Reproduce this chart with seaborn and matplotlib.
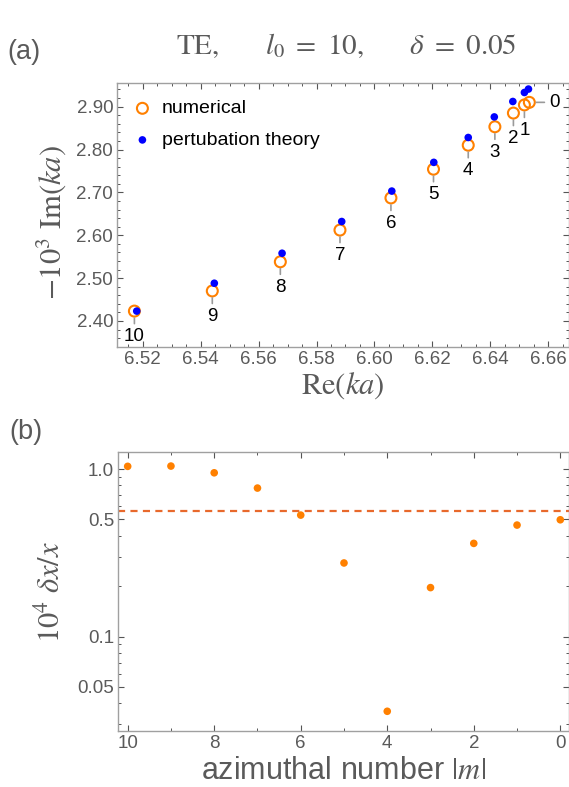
import numpy as np
import matplotlib
matplotlib.use("Agg")
import matplotlib.pyplot as plt
import seaborn as sns
from matplotlib.ticker import MultipleLocator, FixedLocator, FormatStrFormatter, NullFormatter

# panel (a): resonances for |m| = 0..10 (numerical vs perturbation theory)
m_vals = [0, 1, 2, 3, 4, 5, 6, 7, 8, 9, 10]
re_num = [6.6535, 6.6518, 6.6480, 6.6416, 6.6324, 6.6204, 6.6057, 6.5881, 6.5675, 6.5440, 6.5171]
im_num = [2.910, 2.904, 2.885, 2.853, 2.810, 2.754, 2.687, 2.612, 2.538, 2.470, 2.423]
re_pt = [6.6532, 6.6518, 6.6478, 6.6414, 6.6324, 6.6205, 6.6060, 6.5887, 6.5681, 6.5447, 6.5179]
im_pt = [2.941, 2.933, 2.912, 2.876, 2.828, 2.770, 2.703, 2.632, 2.558, 2.488, 2.423]

# panel (b): relative deviation 10^4 dx/x
dev = [0.498, 0.463, 0.360, 0.196, 0.0358, 0.275, 0.531, 0.770, 0.950, 1.042, 1.038]
dev_mean = np.mean(dev)

orange = "#FF8000"
blue = "#0000FF"
dash_col = "#E8692C"
gray_txt = "#5a5a5a"
spine_col = "#a0a0a0"

sns.set_theme(style="ticks")
plt.rcParams["font.family"] = ["Liberation Sans", "DejaVu Sans"]
plt.rcParams["mathtext.fontset"] = "stix"

fig = plt.figure(figsize=(5.69, 7.87), dpi=100)
ax1 = fig.add_axes([0.2062, 0.5595, 0.7938, 0.3355])
ax2 = fig.add_axes([0.2079, 0.0715, 0.7921, 0.3537])


def style_axes(ax):
    for sp in ax.spines.values():
        sp.set_color(spine_col)
        sp.set_linewidth(1.0)
    ax.tick_params(which="both", direction="in", top=True, right=True,
                   color="#555555", labelcolor=gray_txt, labelsize=13.5)
    ax.tick_params(which="major", length=4, width=0.8, pad=3)
    ax.tick_params(which="minor", length=2.2, width=0.7)


# ---- (a) ----
sns.scatterplot(x=re_num, y=im_num, ax=ax1, marker="o", s=62, color=orange,
                facecolor="none", edgecolor=orange, linewidth=1.5,
                label="numerical", zorder=3)
sns.scatterplot(x=re_pt, y=im_pt, ax=ax1, marker="o", s=30, color=blue,
                edgecolor="none", linewidth=0, label="pertubation theory", zorder=4)

for m, x, y in zip(m_vals, re_num, im_num):
    off = (18, 0) if m == 0 else (0, -18.5)
    ax1.annotate(str(m), xy=(x, y), xytext=off, textcoords="offset points",
                 ha="center", va="center", fontsize=13.5, color="black",
                 arrowprops=dict(arrowstyle="-", color="#9a9a9a", lw=1.2,
                                 shrinkA=-1, shrinkB=5))

ax1.set_xlim(6.5112, 6.6672)
ax1.set_ylim(2.340, 2.956)
ax1.xaxis.set_major_locator(MultipleLocator(0.02))
ax1.xaxis.set_minor_locator(MultipleLocator(0.005))
ax1.yaxis.set_major_locator(MultipleLocator(0.1))
ax1.yaxis.set_minor_locator(MultipleLocator(0.02))
ax1.xaxis.set_major_formatter(FormatStrFormatter("%.2f"))
ax1.yaxis.set_major_formatter(FormatStrFormatter("%.2f"))
style_axes(ax1)

ax1.set_xlabel(r"$\mathrm{Re}(ka)$", fontsize=22, color=gray_txt)
ax1.set_ylabel(r"$-10^3\ \mathrm{Im}(ka)$", fontsize=22, color=gray_txt)
ax1.xaxis.set_label_coords(0.5, -0.088)
ax1.yaxis.set_label_coords(-0.11, 0.47)

leg = ax1.legend(loc="upper left", bbox_to_anchor=(0.034, 0.935), frameon=False,
                 fontsize=14, handlelength=1.0, handletextpad=0.5,
                 labelspacing=0.72, borderpad=0, borderaxespad=0)
for t in leg.get_texts():
    t.set_color("black")

# ---- (b) ----
sns.scatterplot(x=m_vals, y=dev, ax=ax2, marker="o", s=30, color=orange,
                edgecolor="none", linewidth=0, zorder=3)
ax2.axhline(dev_mean, color=dash_col, lw=1.6, ls=(0, (3.2, 2.4)), zorder=2)
ax2.set_yscale("log")
ax2.set_xlim(10.217, -0.201)
ax2.set_ylim(0.0274, 1.258)
ax2.xaxis.set_major_locator(MultipleLocator(2))
ax2.xaxis.set_minor_locator(MultipleLocator(1))
ax2.yaxis.set_major_locator(FixedLocator([0.05, 0.1, 0.5, 1.0]))
ax2.yaxis.set_minor_locator(FixedLocator([0.03, 0.04, 0.06, 0.07, 0.08, 0.09,
                                          0.2, 0.3, 0.4, 0.6, 0.7, 0.8, 0.9]))
ax2.set_yticklabels(["0.05", "0.1", "0.5", "1.0"])
ax2.yaxis.set_minor_formatter(NullFormatter())
ax2.set_xticks([10, 8, 6, 4, 2, 0])
ax2.set_xticklabels(["10", "8", "6", "4", "2", "0"])
style_axes(ax2)

ax2.set_xlabel(r"azimuthal number $|m|$", fontsize=22, color=gray_txt)
ax2.set_ylabel(r"$10^4\ \delta x/x$", fontsize=22, color=gray_txt)
ax2.xaxis.set_label_coords(0.5, -0.09)
ax2.yaxis.set_label_coords(-0.115, 0.5)

# title and panel tags
fig.text(0.608, 0.931,
         r"$\mathrm{TE},\qquad l_0\ =\ 10,\qquad \delta\ =\ 0.05$",
         ha="center", va="baseline", fontsize=21, color=gray_txt)
fig.text(0.013, 0.925, "(a)", ha="left", va="baseline", fontsize=19.5, color=gray_txt)
fig.text(0.017, 0.442, "(b)", ha="left", va="baseline", fontsize=19.5, color=gray_txt)

fig.savefig("out.png", dpi=100)
